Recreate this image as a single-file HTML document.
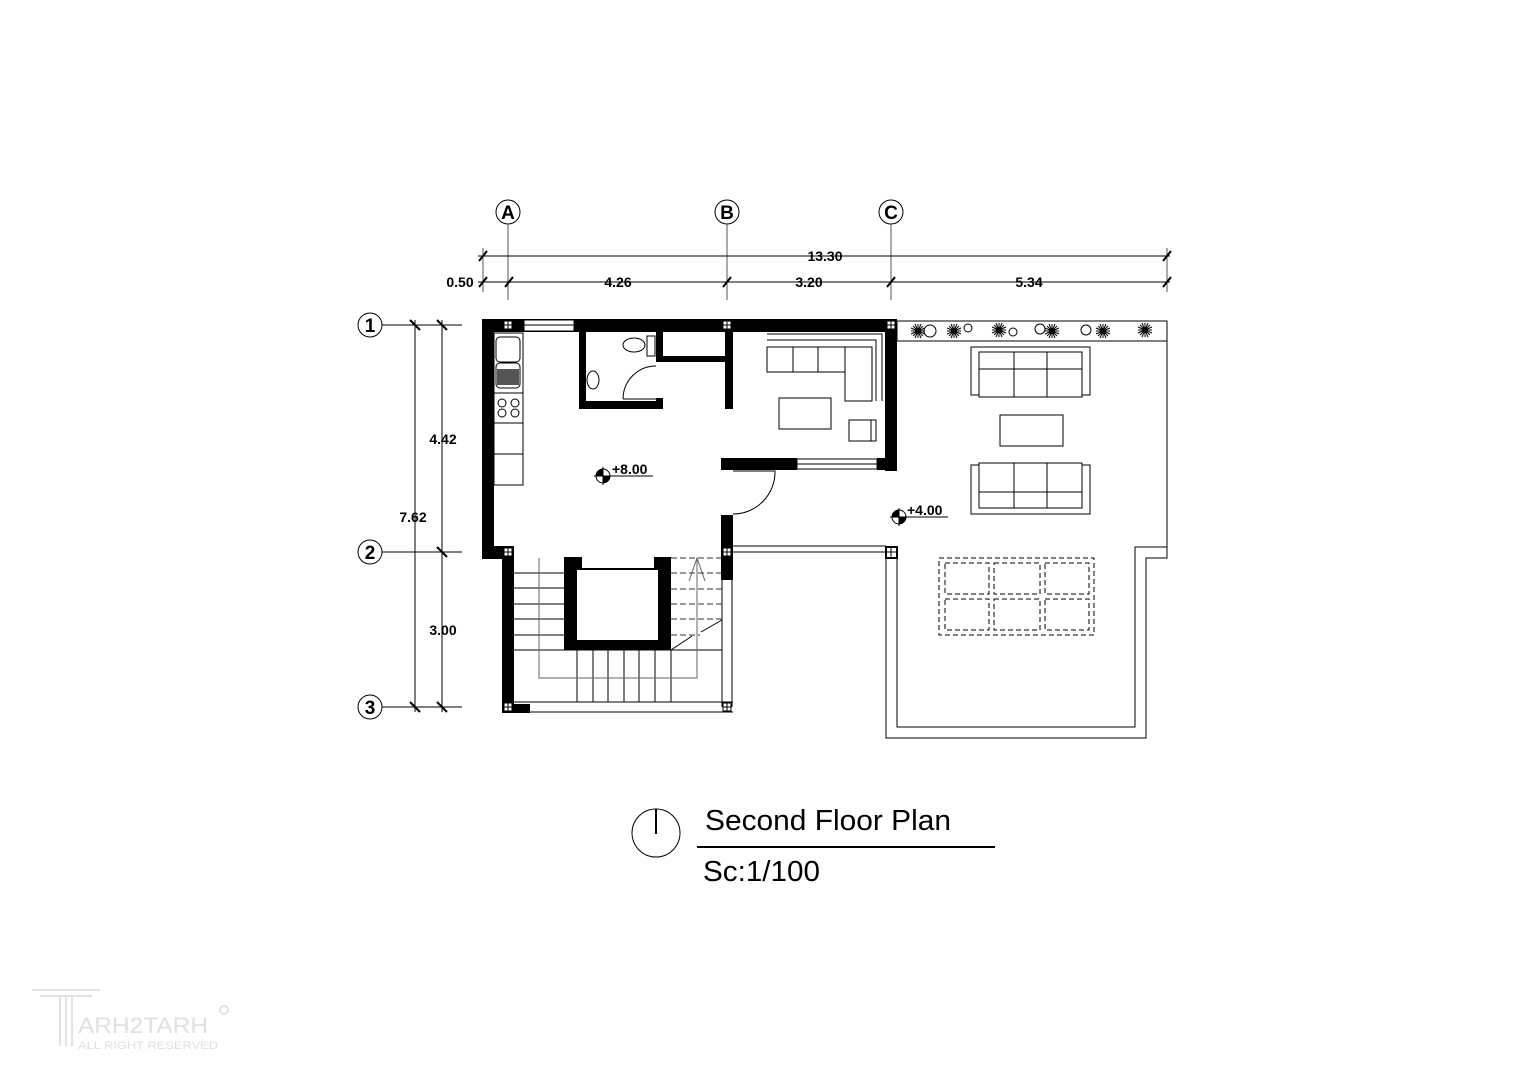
<!DOCTYPE html>
<html><head><meta charset="utf-8"><style>
html,body{margin:0;padding:0;background:#fff;}
svg{display:block;}
text{font-family:"Liberation Sans",Arial,sans-serif;fill:#000;}
</style></head><body>
<svg width="1528" height="1080" viewBox="0 0 1528 1080" xmlns="http://www.w3.org/2000/svg">
<defs>
<g id="pl" stroke="#000" stroke-width="1">
<line x1="-7" y1="0" x2="7" y2="0"/><line x1="0" y1="-7" x2="0" y2="7"/><line x1="-5" y1="-5" x2="5" y2="5"/><line x1="-5" y1="5" x2="5" y2="-5"/>
<line x1="-7" y1="-3" x2="7" y2="3"/><line x1="-7" y1="3" x2="7" y2="-3"/><line x1="-3" y1="-7" x2="3" y2="7"/><line x1="3" y1="-7" x2="-3" y2="7"/>
<circle r="2.5" fill="#000"/>
</g>
</defs>
<rect width="1528" height="1080" fill="#fff"/>
<g stroke="#000" stroke-width="1" fill="none">
<circle cx="508" cy="212" r="12"/><circle cx="727" cy="212" r="12"/><circle cx="891" cy="212" r="12"/>
<line x1="508" y1="224" x2="508" y2="300" stroke="#555"/>
<line x1="727" y1="224" x2="727" y2="300" stroke="#555"/>
<line x1="891" y1="224" x2="891" y2="300" stroke="#555"/>
<line x1="1167" y1="248" x2="1167" y2="292" stroke="#555"/>
<line x1="483" y1="248" x2="483" y2="292" stroke="#555"/>
<line x1="478" y1="256" x2="1170" y2="256"/>
<line x1="478" y1="282" x2="1170" y2="282"/>
</g>
<g stroke="#000" stroke-width="2">
<line x1="479" y1="261" x2="487" y2="251"/><line x1="1163" y1="261" x2="1171" y2="251"/>
<line x1="479" y1="287" x2="487" y2="277"/><line x1="505" y1="287" x2="513" y2="277"/>
<line x1="723" y1="287" x2="731" y2="277"/><line x1="887" y1="287" x2="895" y2="277"/>
<line x1="1163" y1="287" x2="1171" y2="277"/>
</g>
<g font-size="14" font-weight="bold" text-anchor="middle">
<text x="825" y="261">13.30</text>
<text x="618" y="287">4.26</text>
<text x="809" y="287">3.20</text>
<text x="1029" y="287">5.34</text>
<text x="460" y="287">0.50</text>
</g>
<g font-size="19" font-weight="bold" text-anchor="middle">
<text x="508" y="219">A</text><text x="727" y="219">B</text><text x="891" y="219">C</text>
<text x="370" y="332">1</text><text x="370" y="559">2</text><text x="370" y="714">3</text>
</g>
<g stroke="#000" stroke-width="1" fill="none">
<circle cx="370" cy="325" r="12"/><circle cx="370" cy="552" r="12"/><circle cx="370" cy="707" r="12"/>
<line x1="382" y1="325" x2="462" y2="325"/><line x1="382" y1="552" x2="462" y2="552"/><line x1="382" y1="707" x2="462" y2="707"/>
<line x1="415" y1="320" x2="415" y2="712"/><line x1="442" y1="320" x2="442" y2="712"/>
</g>
<g stroke="#000" stroke-width="2">
<line x1="410" y1="320" x2="420" y2="330"/><line x1="437" y1="320" x2="447" y2="330"/>
<line x1="437" y1="547" x2="447" y2="557"/>
<line x1="410" y1="702" x2="420" y2="712"/><line x1="437" y1="702" x2="447" y2="712"/>
</g>
<g font-size="14" font-weight="bold" text-anchor="middle">
<text x="443" y="444">4.42</text><text x="443" y="635">3.00</text><text x="413" y="522">7.62</text>
</g>

<g stroke="#000" stroke-width="1" fill="none">
<rect x="897" y="321" width="270" height="20"/>
<polyline points="1167,321 1167,558 1146,558 1146,738 886,738 886,552"/>
<polyline points="1167,341 1167,547 1135,547 1135,727 897,727 897,557"/>
<line x1="733" y1="546" x2="886" y2="546"/><line x1="733" y1="552" x2="886" y2="552"/>
<rect x="971" y="347" width="119" height="48"/><rect x="979" y="352" width="103" height="45" fill="#fff"/>
<line x1="979" y1="369" x2="1082" y2="369"/><line x1="1014" y1="352" x2="1014" y2="397"/><line x1="1047" y1="352" x2="1047" y2="397"/>
<rect x="1000" y="415" width="63" height="31"/>
<rect x="971" y="465" width="119" height="49"/><rect x="979" y="463" width="103" height="45" fill="#fff"/>
<line x1="979" y1="492" x2="1082" y2="492"/><line x1="1014" y1="463" x2="1014" y2="508"/><line x1="1047" y1="463" x2="1047" y2="508"/>
</g>
<g stroke="#000" stroke-width="1" fill="none" stroke-dasharray="5,3">
<rect x="939" y="558" width="155" height="77"/>
<rect x="945" y="563" width="44" height="31"/><rect x="994" y="563" width="46" height="31"/><rect x="1045" y="563" width="44" height="31"/>
<rect x="945" y="599" width="44" height="31"/><rect x="994" y="599" width="46" height="31"/><rect x="1045" y="599" width="44" height="31"/>
</g>
<g stroke="#000" stroke-width="1" fill="none">
<circle cx="930" cy="331" r="6"/><circle cx="968" cy="328" r="4"/><circle cx="1013" cy="332" r="4"/><circle cx="1040" cy="329" r="5"/><circle cx="1086" cy="330" r="5"/>
</g>
<use href="#pl" x="918" y="331"/><use href="#pl" x="954" y="331"/><use href="#pl" x="999" y="330"/><use href="#pl" x="1052" y="331"/><use href="#pl" x="1103" y="331"/><use href="#pl" x="1145" y="330"/>
<g stroke="#000" stroke-width="1" fill="none">
<line x1="514" y1="573" x2="564" y2="573"/><line x1="514" y1="588" x2="564" y2="588"/><line x1="514" y1="604" x2="564" y2="604"/><line x1="514" y1="619" x2="564" y2="619"/><line x1="514" y1="635" x2="564" y2="635"/>
<line x1="514" y1="650" x2="722" y2="650"/>
<line x1="577" y1="650" x2="577" y2="702"/><line x1="593" y1="650" x2="593" y2="702"/><line x1="608" y1="650" x2="608" y2="702"/><line x1="624" y1="650" x2="624" y2="702"/><line x1="639" y1="650" x2="639" y2="702"/><line x1="655" y1="650" x2="655" y2="702"/><line x1="671" y1="650" x2="671" y2="702"/>
<polyline points="539,558 539,678 697,678 697,558" stroke="#666"/>
<polyline points="689,581 697,558 705,581" stroke="#666" fill="none"/>
<line x1="671" y1="650" x2="692" y2="636"/><line x1="701" y1="632" x2="722" y2="620"/>
<line x1="514" y1="702" x2="733" y2="702"/><line x1="514" y1="712" x2="733" y2="712"/>
<line x1="722" y1="578" x2="722" y2="707"/><line x1="732" y1="578" x2="732" y2="707"/>
</g>
<g stroke="#333" stroke-width="1" stroke-dasharray="6,3">
<line x1="671" y1="558" x2="722" y2="558"/><line x1="671" y1="573" x2="722" y2="573"/><line x1="671" y1="589" x2="722" y2="589"/><line x1="671" y1="604" x2="722" y2="604"/><line x1="671" y1="619" x2="722" y2="619"/><line x1="671" y1="635" x2="700" y2="635"/>
</g>

<g fill="#000">
<rect x="482" y="319" width="415" height="13"/>
<rect x="482" y="319" width="12" height="240"/>
<rect x="482" y="546" width="32" height="13"/>
<rect x="885" y="319" width="12" height="152"/>
<rect x="721" y="458" width="76" height="12"/>
<rect x="877" y="458" width="20" height="12"/>
<rect x="721" y="515" width="12" height="65"/>
<rect x="721" y="546" width="12" height="34"/>
<rect x="579" y="332" width="7" height="77"/>
<rect x="579" y="401" width="77" height="8"/>
<rect x="656" y="398" width="7" height="11"/>
<rect x="656" y="332" width="7" height="30"/>
<rect x="656" y="356" width="77" height="6"/>
<rect x="725" y="332" width="8" height="77"/>
<rect x="502" y="546" width="12" height="167"/>
<rect x="514" y="704" width="16" height="9"/>
<rect x="564" y="557" width="13" height="93"/>
<rect x="564" y="557" width="18" height="12"/>
<rect x="564" y="640" width="107" height="10"/>
<rect x="658" y="557" width="13" height="93"/>
<rect x="654" y="557" width="17" height="12"/>
<rect x="577" y="568" width="82" height="2"/>
</g>
<g fill="#fff" stroke="#000" stroke-width="1">
<rect x="524" y="320" width="50" height="11"/>
<rect x="797" y="459" width="80" height="10"/>
</g>
<g stroke="#000" stroke-width="1"><line x1="524" y1="325" x2="574" y2="325"/><line x1="797" y1="464" x2="877" y2="464"/></g>
<g fill="#fff" stroke="#000" stroke-width="1">
<rect x="504" y="321" width="8" height="8"/><rect x="723" y="321" width="8" height="8"/><rect x="887" y="321" width="8" height="8"/>
<rect x="504" y="548" width="8" height="8"/><rect x="723" y="548" width="8" height="8"/>
<rect x="504" y="703" width="8" height="8"/><rect x="723" y="703" width="8" height="8"/>
</g>
<rect x="886" y="547" width="11" height="11" fill="#fff" stroke="#000" stroke-width="2"/>
<g stroke="#000" stroke-width="1">
<line x1="508" y1="321" x2="508" y2="329"/><line x1="504" y1="325" x2="512" y2="325"/>
<line x1="727" y1="321" x2="727" y2="329"/><line x1="723" y1="325" x2="731" y2="325"/>
<line x1="891" y1="321" x2="891" y2="329"/><line x1="887" y1="325" x2="895" y2="325"/>
<line x1="508" y1="548" x2="508" y2="556"/><line x1="504" y1="552" x2="512" y2="552"/>
<line x1="727" y1="548" x2="727" y2="556"/><line x1="723" y1="552" x2="731" y2="552"/>
<line x1="891" y1="547" x2="891" y2="558"/><line x1="886" y1="552" x2="897" y2="552"/>
<line x1="508" y1="703" x2="508" y2="711"/><line x1="504" y1="707" x2="512" y2="707"/>
<line x1="727" y1="703" x2="727" y2="711"/><line x1="723" y1="707" x2="731" y2="707"/>
</g>
<g stroke="#000" stroke-width="1" fill="none">
<rect x="494" y="333" width="29" height="152"/>
<line x1="494" y1="393" x2="523" y2="393"/><line x1="494" y1="423" x2="523" y2="423"/><line x1="494" y1="454" x2="523" y2="454"/>
<rect x="496" y="337" width="24" height="25" rx="4"/><rect x="496" y="363" width="24" height="25" rx="4"/>
<circle cx="502" cy="403" r="4"/><circle cx="515" cy="403" r="4"/><circle cx="502" cy="413" r="4"/><circle cx="515" cy="413" r="4"/>
<ellipse cx="634" cy="345" rx="11" ry="7"/><rect x="647" y="336" width="8" height="20"/>
<ellipse cx="593" cy="380" rx="6" ry="9"/>
<path d="M623,399 A33,33 0 0 1 656,366"/><line x1="623" y1="399" x2="656" y2="399"/>
<path d="M733,471 L775,471 A42,42 0 0 1 733,514"/>
<polyline points="767,334 882,334 882,401"/><polyline points="767,340 876,340 876,401"/>
<rect x="767" y="347" width="78" height="25"/><line x1="793" y1="347" x2="793" y2="372"/><line x1="818" y1="347" x2="818" y2="372"/>
<rect x="845" y="347" width="27" height="54"/>
<rect x="779" y="398" width="52" height="31"/>
<rect x="849" y="420" width="27" height="21"/><line x1="871" y1="420" x2="871" y2="441"/>
</g>
<rect x="497" y="369" width="22" height="16" fill="#555"/>
<g stroke="#000" stroke-width="1" fill="none">
<circle cx="603" cy="476" r="7"/><line x1="594" y1="476" x2="653" y2="476"/><line x1="603" y1="467" x2="603" y2="485"/>
<circle cx="899" cy="517" r="7"/><line x1="890" y1="517" x2="948" y2="517"/><line x1="899" y1="508" x2="899" y2="526"/>
</g>
<path d="M603,476 L610,476 A7,7 0 0 1 603,483 Z M603,476 L596,476 A7,7 0 0 1 603,469 Z" fill="#000"/>
<path d="M899,517 L906,517 A7,7 0 0 1 899,524 Z M899,517 L892,517 A7,7 0 0 1 899,510 Z" fill="#000"/>
<g font-size="14" font-weight="bold"><text x="612" y="474">+8.00</text><text x="907" y="515">+4.00</text></g>

<circle cx="656" cy="833" r="24" fill="none" stroke="#000" stroke-width="1"/>
<line x1="656" y1="809" x2="656" y2="834" stroke="#000" stroke-width="2"/>
<text x="705" y="830" font-size="29" textLength="246" lengthAdjust="spacingAndGlyphs">Second Floor Plan</text>
<line x1="697" y1="847" x2="995" y2="847" stroke="#000" stroke-width="2"/>
<text x="703" y="881" font-size="29" textLength="117" lengthAdjust="spacingAndGlyphs">Sc:1/100</text>
<g fill="none" stroke="#e2e2e2" stroke-width="2">
<line x1="32" y1="990" x2="100" y2="990"/><line x1="40" y1="996" x2="92" y2="996"/>
<line x1="60" y1="996" x2="60" y2="1046"/><line x1="66" y1="996" x2="66" y2="1046"/><line x1="72" y1="996" x2="72" y2="1046"/>
<circle cx="224" cy="1010" r="4"/>
</g>
<text x="78" y="1033" font-size="22" textLength="130" lengthAdjust="spacingAndGlyphs" style="fill:#e0e0e0">ARH2TARH</text>
<text x="78" y="1049" font-size="11" textLength="140" lengthAdjust="spacingAndGlyphs" style="fill:#e0e0e0">ALL RIGHT RESERVED</text>
</svg>
</body></html>
